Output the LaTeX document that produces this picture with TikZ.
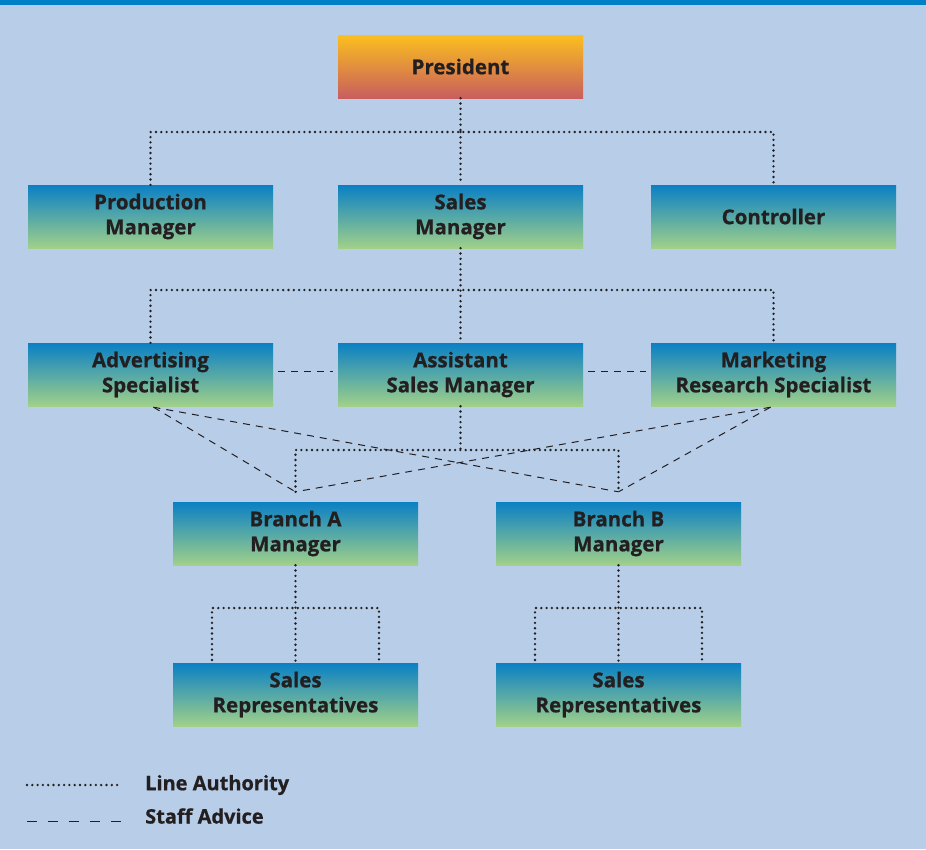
\documentclass[tikz,border=0pt]{standalone}
\usepackage{fontspec}
\setmainfont{Open Sans}[BoldFeatures={FakeBold=0.7}]
\usetikzlibrary{calc}
\definecolor{bg}{HTML}{B7CDE8}
\definecolor{topbar}{HTML}{0080C6}
\definecolor{txt}{HTML}{231F20}
\definecolor{blueT}{HTML}{0A80C4}
\definecolor{greenB}{HTML}{A0D08A}
\definecolor{presT}{HTML}{FBBF1F}
\definecolor{presB}{HTML}{C85E5E}
\tikzset{
  box/.style={rectangle, minimum width=245pt, minimum height=63pt, inner sep=0pt,
    top color=blueT, bottom color=greenB, draw=none, text=txt,
    font=\fontsize{20.5}{25}\selectfont\bfseries, align=center},
  presbox/.style={box, top color=presT, bottom color=presB},
  la/.style={draw=txt, line width=2.6pt, line cap=round, dash pattern=on 0pt off 5.3pt},
  sa/.style={draw=txt, line width=1pt, dash pattern=on 7pt off 6pt},
  legtext/.style={text=txt, font=\fontsize{20}{22}\selectfont\bfseries, anchor=west, inner sep=0pt}
}
\begin{document}
\begin{tikzpicture}[x=1pt,y=-1pt]
\useasboundingbox (0,0) rectangle (926,849);
\fill[bg] (0,0) rectangle (926,849);
\fill[topbar] (0,0) rectangle (926,5);

\node[presbox] (pres) at (460.5,66.5) {President};
\node[box] (prod) at (150.5,216.5) {Production\\Manager};
\node[box] (sales) at (460.5,216.5) {Sales\\Manager};
\node[box] (ctrl) at (773.5,216.5) {Controller};
\node[box] (adv) at (150.5,374.5) {Advertising\\Specialist};
\node[box] (asst) at (460.5,374.5) {Assistant\\Sales Manager};
\node[box] (mkt) at (773.5,374.5) {Marketing\\Research Specialist};
\node[box] (brA) at (295.5,533.5) {Branch A\\Manager};
\node[box] (brB) at (618.5,533.5) {Branch B\\Manager};
\node[box] (repA) at (295.5,694.5) {Sales\\Representatives};
\node[box] (repB) at (618.5,694.5) {Sales\\Representatives};

% line authority
\coordinate (j1) at (460.5,132);
\draw[la] (pres.south) -- (j1);
\draw[la] (prod.north) |- (ctrl.north |- j1) -- (ctrl.north);
\draw[la] (j1) -- (sales.north);

\coordinate (j2) at (460.5,290);
\draw[la] (sales.south) -- (asst.north);
\draw[la] (adv.north) |- (mkt.north |- j2) -- (mkt.north);

\coordinate (j3) at (460.5,450);
\coordinate (tA) at ($(brA.north)+(0,-10)$);
\coordinate (tB) at ($(brB.north)+(0,-10)$);
\draw[la] (asst.south) -- (j3);
\draw[la] (tA) |- (tB |- j3) -- (tB);

\coordinate (aL) at (212,660);
\coordinate (aR) at (379,660);
\coordinate (bL) at (535,660);
\coordinate (bR) at (702,660);
\coordinate (kA) at (295.5,608);
\coordinate (kB) at (618.5,608);
\draw[la] (brA.south) -- (repA.north);
\draw[la] (aL) |- (kA) -| (aR);
\draw[la] (brB.south) -- (repB.north);
\draw[la] (bL) |- (kB) -| (bR);

% staff advice
\draw[sa] ($(adv.east)+(5,-3)$) -- ($(asst.west)+(-5,-3)$);
\draw[sa] ($(asst.east)+(5,-3)$) -- ($(mkt.west)+(-5,-3)$);
\coordinate (sA) at ($(adv.south)+(3,1)$);
\coordinate (sM) at ($(mkt.south)+(-3,1)$);
\draw[sa] (sA) -- (tA);
\draw[sa] (sA) -- (tB);
\draw[sa] (sM) -- (tA);
\draw[sa] (sM) -- (tB);

% legend
\coordinate (l1a) at (27,785);
\coordinate (l1b) at (121,785);
\coordinate (l2a) at (27,821);
\coordinate (l2b) at (121,821);
\draw[la] (l1a) -- (l1b);
\draw[draw=txt, line width=1pt, dash pattern=on 10pt off 11pt] (l2a) -- (l2b);
\node[legtext] (leg1) at (145,785) {Line Authority};
\node[legtext] (leg2) at (145,816) {Staff Advice};
\end{tikzpicture}
\end{document}
